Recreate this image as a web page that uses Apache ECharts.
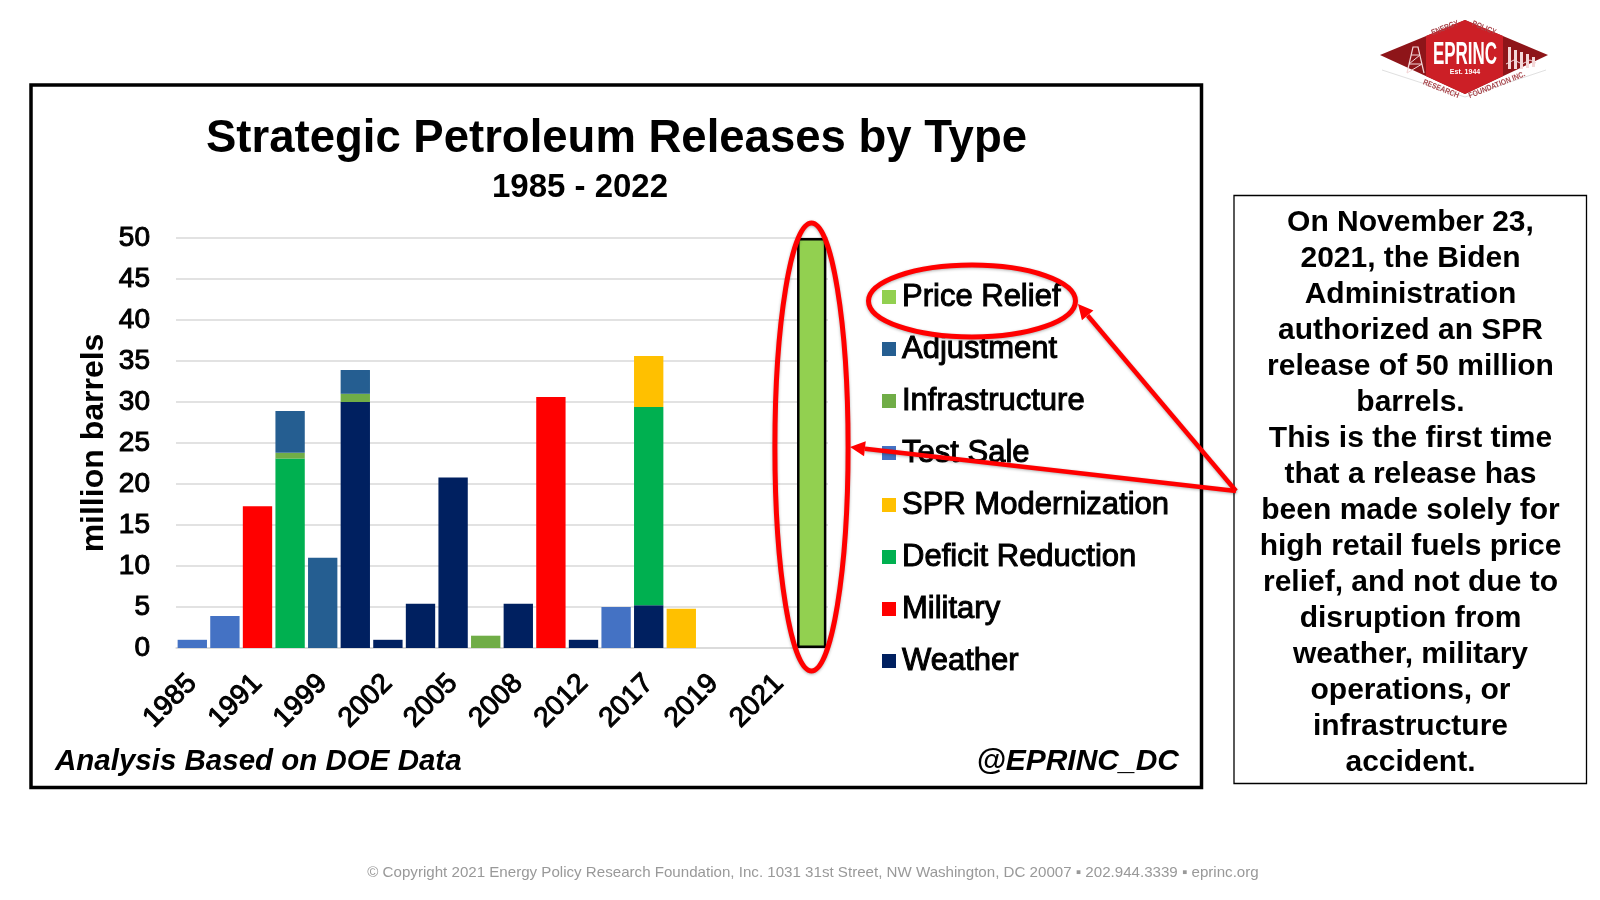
<!DOCTYPE html>
<html>
<head>
<meta charset="utf-8">
<style>html,body{margin:0;padding:0;background:#fff}#c{width:1600px;height:900px}</style>
<script src="https://cdn.jsdelivr.net/npm/echarts@6/dist/echarts.min.js"></script>
</head>
<body>
<div id="c"></div>
<script>
const years = ['1985','1990','1991','1996','1999','2000','2002','2004','2005','2006','2008','2011','2012','2014','2017','2018','2019','2020','2021','2022'];
const weather        = [0,0,0,0,0,30,1,5.4,20.8,0,5.4,0,1,0,5.2,0,0,0,0,0];
const military       = [0,0,17.3,0,0,0,0,0,0,0,0,30.6,0,0,0,0,0,0,0,0];
const deficit        = [0,0,0,23.1,0,0,0,0,0,0,0,0,0,0,24.2,0,0,0,0,0];
const modernization  = [0,0,0,0,0,0,0,0,0,0,0,0,0,0,6.2,4.8,0,0,0,0];
const testSale       = [1,3.9,0,0,0,0,0,0,0,0,0,0,0,5,0,0,0,0,0,0];
const infrastructure = [0,0,0,0.7,0,1,0,0,0,1.5,0,0,0,0,0,0,0,0,0,0];
const adjustment     = [0,0,0,5.1,11,2.9,0,0,0,0,0,0,0,0,0,0,0,0,0,0];
const priceRelief    = [0,0,0,0,0,0,0,0,0,0,0,0,0,0,0,0,0,0,0,50];
const legendOrder = ['Price Relief','Adjustment','Infrastructure','Test Sale','SPR Modernization','Deficit Reduction','Military','Weather'];
const boxLines = ['On November 23,','2021, the Biden','Administration','authorized an SPR','release of 50 million','barrels.','This is the first time','that a release has','been made solely for','high retail fuels price','relief, and not due to','disruption from','weather, military','operations, or','infrastructure','accident.'];

const FONT = '"Liberation Sans", Arial, sans-serif';
const soft = {textBorderColor:'#000', textBorderWidth:1};
const bar = (name, data, color) => ({
  name, type:'bar', stack:'t', data, barCategoryGap:'10%',
  itemStyle:{color}, emphasis:{disabled:true}
});
const series = [
  bar('Weather', weather, '#002060'),
  bar('Military', military, '#FF0000'),
  bar('Deficit Reduction', deficit, '#00B050'),
  bar('SPR Modernization', modernization, '#FFC000'),
  bar('Test Sale', testSale, '#4472C4'),
  bar('Infrastructure', infrastructure, '#70AD47'),
  bar('Adjustment', adjustment, '#255E91'),
  bar('Price Relief', priceRelief.map(v => v > 0 ? {value:v, itemStyle:{borderColor:'#000', borderWidth:2.5}} : v), '#92D050')
];

const RED = '#FF0000';
const shadow = {shadowBlur:3, shadowColor:'rgba(0,0,0,0.3)', shadowOffsetY:1};
function arrow(x1,y1,x2,y2){
  const a = Math.atan2(y2-y1,x2-x1), L=15, W=7.5;
  const bx = x2-L*Math.cos(a), by = y2-L*Math.sin(a);
  const nx = -Math.sin(a)*W, ny = Math.cos(a)*W;
  return [
    {type:'line', z:30, shape:{x1,y1,x2:bx,y2:by}, style:{stroke:RED, lineWidth:4.5, ...shadow}},
    {type:'polygon', z:30, shape:{points:[[x2,y2],[bx+nx,by+ny],[bx-nx,by-ny]]}, style:{fill:RED}}
  ];
}
const T = (x,y,text,font,fill,extra) => ({type:'text', x, y, z:20, style:{text, font, fill, textAlign:'center', textVerticalAlign:'middle', ...(extra||{})}});

const logoText = (x,y,text,rot,size) => ({type:'text', x, y, rotation:rot, z:41, scaleX:0.85, style:{text, font:'bold '+(size||8)+'px '+FONT, fill:'#a8464c', textAlign:'center', textVerticalAlign:'middle'}});
const logo = [
  {type:'polyline', z:39, shape:{points:[[1382,70],[1465,97],[1546,70]]}, style:{stroke:'#e0e0e0', lineWidth:1, fill:'none'}},
  {type:'polygon', z:40, shape:{points:[[1380,55],[1465,20],[1548,55],[1465,94]]}, style:{fill:'#8E1519'}},
  {type:'polygon', z:40, shape:{points:[[1426,36],[1465,20],[1503,36],[1503,76],[1465,94],[1426,76]]}, style:{fill:'#CC1F26'}},
  {type:'text', x:1465, y:55, z:42, scaleX:0.53, style:{text:'EPRINC', font:'bold 32px '+FONT, fill:'#fff', textAlign:'center', textVerticalAlign:'middle'}},
  {type:'text', x:1465, y:72, z:42, style:{text:'Est. 1944', font:'bold 7px '+FONT, fill:'#fff', textAlign:'center', textVerticalAlign:'middle'}},
  logoText(1445,28,'ENERGY',0.38),
  logoText(1484,28,'POLICY',-0.38),
  logoText(1441,89,'RESEARCH',-0.38),
  logoText(1497,85,'FOUNDATION INC.',0.38),
  {type:'polyline', z:41, shape:{points:[[1407,73],[1413,47],[1418,47],[1424,73]]}, style:{stroke:'#f3d7d8', lineWidth:1.2, fill:'none'}},
  {type:'polyline', z:41, shape:{points:[[1411,55],[1420,55],[1409,64],[1422,64],[1407,73]]}, style:{stroke:'#f3d7d8', lineWidth:1, fill:'none'}},
  ...[[1508,47,22],[1514,50,19],[1520,52,17],[1526,54,14],[1532,57,10]].map(b => ({type:'rect', z:41, shape:{x:b[0],y:b[1],width:3,height:b[2]}, style:{fill:'#f3d7d8'}})),
  {type:'polyline', z:41, shape:{points:[[1506,64],[1514,60],[1522,64],[1530,60],[1536,63]]}, style:{stroke:'#f3d7d8', lineWidth:1, fill:'none'}}
];

const graphic = [
  {type:'rect', z:-1, shape:{x:31,y:85,width:1170.5,height:702.5}, style:{fill:'none', stroke:'#000', lineWidth:3.5}},
  {type:'rect', z:5, shape:{x:1234,y:195.5,width:352.5,height:588}, style:{fill:'#fff', stroke:'#000', lineWidth:1.3}},
  T(1410.5,492.7,boxLines.join('\n'),'bold 30px '+FONT,'#000',{lineHeight:36}),
  {type:'text', x:55, y:762, z:20, style:{text:'Analysis Based on DOE Data', font:'italic bold 29.5px '+FONT, fill:'#000', textVerticalAlign:'middle'}},
  {type:'text', x:1179, y:762, z:20, style:{text:'@EPRINC_DC', font:'italic bold 30px '+FONT, fill:'#000', textAlign:'right', textVerticalAlign:'middle'}},
  T(813,873,'© Copyright 2021 Energy Policy Research Foundation, Inc. 1031 31st Street, NW Washington, DC 20007 ▪ 202.944.3339 ▪ eprinc.org','15.12px '+FONT,'#999'),
  {type:'ellipse', z:30, shape:{cx:811.5,cy:447,rx:36.6,ry:224}, style:{fill:'none', stroke:RED, lineWidth:5, ...shadow}},
  {type:'ellipse', z:30, shape:{cx:972,cy:301,rx:103.5,ry:36}, style:{fill:'none', stroke:RED, lineWidth:5, ...shadow}},
  ...arrow(1236,491,1078,304),
  ...arrow(1236,491,850,447),
  ...logo
];

const chart = echarts.init(document.getElementById('c'), null, {width:1600, height:900, renderer:'canvas'});
chart.setOption({
  animation:false,
  backgroundColor:'#fff',
  title:[
    {text:'Strategic Petroleum Releases by Type', left:611.5, top:134, textAlign:'center', textVerticalAlign:'middle', textStyle:{fontFamily:FONT, fontWeight:'bold', fontSize:45.5, color:'#000'}},
    {text:'1985 - 2022', left:575, top:183, textAlign:'center', textVerticalAlign:'middle', textStyle:{fontFamily:FONT, fontWeight:'bold', fontSize:33, color:'#000'}}
  ],
  grid:{left:176, top:238, width:652, height:410, containLabel:false},
  legend:{
    orient:'vertical', left:882, top:281, padding:0, itemWidth:14, itemHeight:14, itemGap:20,
    icon:'rect', data:legendOrder, selectedMode:false,
    textStyle:{fontFamily:FONT, fontSize:31, color:'#000', height:30, lineHeight:30, padding:[0,0,0,1], ...soft}
  },
  xAxis:{
    type:'category', data:years,
    axisTick:{show:false},
    axisLine:{lineStyle:{color:'#d9d9d9', width:1.5}},
    axisLabel:{interval:1, rotate:45, margin:31, fontFamily:FONT, fontSize:28, color:'#000', ...soft}
  },
  yAxis:{
    type:'value', min:0, max:50, interval:5,
    name:'million barrels', nameLocation:'middle', nameGap:66, nameRotate:90,
    nameTextStyle:{fontFamily:FONT, fontWeight:'bold', fontSize:32, color:'#000'},
    axisLine:{show:false}, axisTick:{show:false},
    splitLine:{lineStyle:{color:'#d9d9d9', width:1.5}},
    axisLabel:{margin:26, fontFamily:FONT, fontSize:28, color:'#000', ...soft}
  },
  series,
  graphic:{elements:graphic}
});
</script>
</body>
</html>
